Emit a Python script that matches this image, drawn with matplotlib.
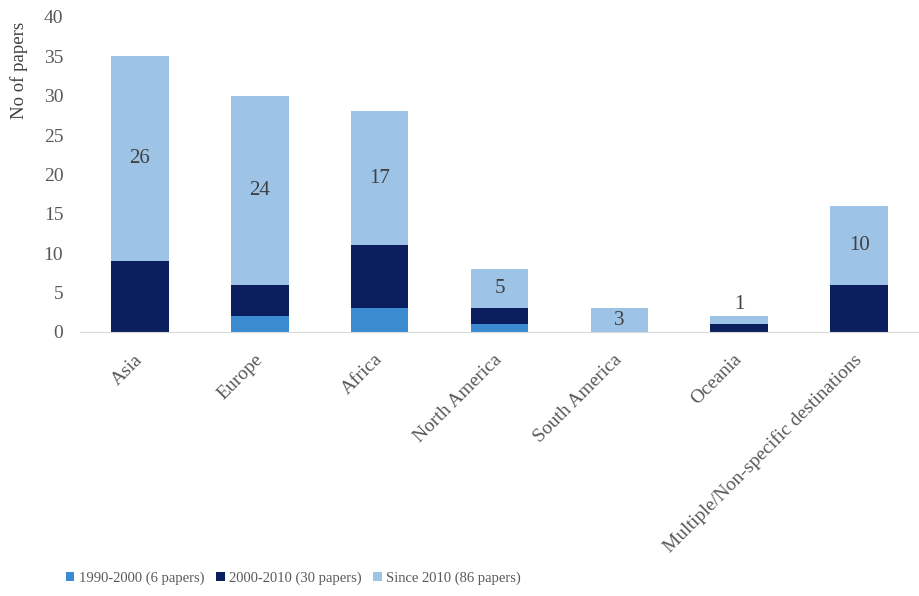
import matplotlib.pyplot as plt
import numpy as np

plt.rcParams["font.family"] = ["Liberation Serif", "DejaVu Serif"]

regions = ["Asia", "Europe", "Africa", "North America", "South America",
           "Oceania", "Multiple/Non-specific destinations"]
p1990 = [0, 2, 3, 1, 0, 0, 0]
p2000 = [9, 4, 8, 2, 0, 1, 6]
p2010 = [26, 24, 17, 5, 3, 1, 10]
series_labels = ["1990-2000 (6 papers)", "2000-2010 (30 papers)", "Since 2010 (86 papers)"]
colors = ["#3b8bd0", "#0b1f5e", "#9dc3e6"]

fig = plt.figure(figsize=(9.19, 5.96), dpi=100)
ax = fig.add_axes([0.087, 0.443, 0.913, 0.5285])

x = np.arange(len(regions))
w = 0.48
a = np.array(p1990)
b = np.array(p2000)
c = np.array(p2010)
ax.bar(x, a, w, color=colors[0], label=series_labels[0])
ax.bar(x, b, w, bottom=a, color=colors[1], label=series_labels[1])
ax.bar(x, c, w, bottom=a + b, color=colors[2], label=series_labels[2])

# labels only on the "since 2010" segment
for i, v in enumerate(c):
    if v >= 2:
        ax.text(x[i], a[i] + b[i] + v / 2, str(v), ha="center", va="center",
                fontsize=15, color="#404040")
    else:
        ax.text(x[i], a[i] + b[i] + v + 0.3, str(v), ha="center", va="bottom",
                fontsize=15, color="#404040")

ax.set_xlim(-0.5, len(regions) - 0.5)
ax.set_ylim(0, 40)
ax.set_yticks(range(0, 41, 5))
ax.set_xticks(x)
ax.set_xticklabels(regions, rotation=45, ha="right", va="center",
                   rotation_mode="anchor", fontsize=14, color="#595959")
ax.tick_params(axis="x", length=0, pad=18)
ax.tick_params(axis="y", length=0, labelsize=14, labelcolor="#595959", pad=12)
ax.set_ylabel("No of papers", fontsize=13.5, color="#404040")
ax.yaxis.set_label_coords(-0.062, 0.83)

for s in ["top", "right", "left"]:
    ax.spines[s].set_visible(False)
ax.spines["bottom"].set_color("#d9d9d9")

fig.legend(loc="center left", bbox_to_anchor=(0.057, 0.03), ncol=3, frameon=False,
           fontsize=10.5, handlelength=0.6, handleheight=0.6, handletextpad=0.3,
           columnspacing=0.8, labelcolor="#595959")

fig.savefig("out.png", dpi=100)
